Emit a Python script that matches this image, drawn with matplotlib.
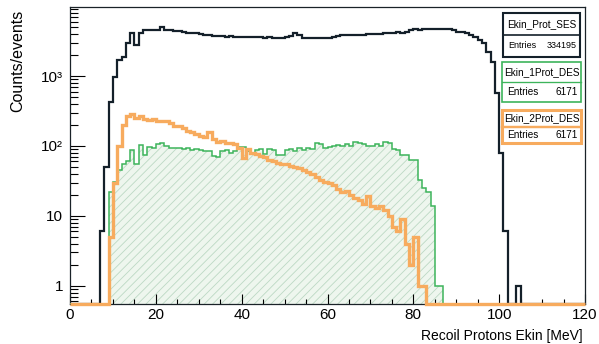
import matplotlib
matplotlib.use('Agg')
import matplotlib.pyplot as plt
import numpy as np
from matplotlib.patches import Rectangle
from matplotlib.lines import Line2D
from matplotlib.ticker import LogLocator, NullFormatter, MultipleLocator

plt.rcParams['font.family'] = ['Liberation Sans', 'DejaVu Sans']

# -------------------------- data (1 MeV bins, 0..120) --------------------------
bin_edges = np.arange(0, 121, 1)

ses_first_bin = 7
ses_counts = [6, 50, 425, 970, 1700, 1900, 2960, 4100, 2750,
              4100, 4550, 4600, 4500, 4600, 5050, 4600, 4550, 4400, 4400, 4200, 4100, 4150, 4150, 4000,
              3850, 3800, 3700, 3750, 3700, 3650, 3700, 3650, 3600, 3650, 3650, 3600, 3650, 3600, 3550,
              3600, 3550, 3500, 3500, 3600, 3700, 4100, 3800, 3550, 3500, 3550, 3500, 3550, 3550, 3500,
              3600, 3700, 3800, 3850, 3800, 3900, 3850, 3900, 4000, 3950, 4000, 4050, 4100, 4150, 4100,
              4200, 4150, 4200, 4500, 4650, 4600, 4700, 4650, 4700, 4750, 4700, 4650, 4700, 4600, 4300,
              4300, 4100, 3850, 3600, 3300, 3000, 2200, 1600, 570, 80, 6, 0, 0, 1]

des1_first_bin = 9
des1_counts = [22, 31, 45, 55, 60, 88, 55, 103, 74, 98, 95, 105, 110, 100, 95, 92, 95, 90, 92, 88,
               90, 88, 85, 85, 72, 70, 85, 88, 80, 85, 97, 97, 85, 80, 88, 90, 78, 90, 88, 75,
               74, 88, 90, 85, 95, 88, 93, 90, 110, 108, 95, 98, 100, 103, 100, 105, 100, 115, 112, 105,
               100, 100, 105, 100, 115, 112, 90, 88, 75, 74, 63, 63, 33, 25, 22, 14, 1, 1]

des2_first_bin = 9
des2_counts = [5, 30, 100, 200, 270, 290, 250, 265, 240, 235, 245, 225, 230, 225, 210, 195, 190, 180,
               165, 160, 150, 140, 135, 160, 125, 115, 118, 110, 112, 105, 95, 68, 90, 80, 78, 72,
               70, 63, 60, 58, 55, 56, 52, 50, 48, 45, 43, 40, 36, 33, 31, 30, 28, 24, 22, 23,
               20, 18, 17, 15, 19, 14, 13, 14, 12, 10, 7, 6, 9, 4, 2, 5, 1, 1]

names = ['Ekin_Prot_SES', 'Ekin_1Prot_DES', 'Ekin_2Prot_DES']
entries = ['334195', '6171', '6171']
xtick_values = [0, 20, 40, 60, 80, 100, 120]
ytick_values = [1, 10, 100, 1000]
ytick_labels = ['1', '10', '10²', '10³']

# -------------------------- drawing --------------------------
ymin, ymax = 0.55, 9700
c_black, c_green, c_orange = '#14202a', '#3db45b', '#f7ab5e'


def full_hist(first, counts):
    h = np.zeros(len(bin_edges) - 1)
    h[first:first + len(counts)] = counts
    # empty bins are drawn on the frame bottom, as ROOT does on log scale
    return np.where(h > 0, h, ymin)


ses = full_hist(ses_first_bin, ses_counts)
des1 = full_hist(des1_first_bin, des1_counts)
des2 = full_hist(des2_first_bin, des2_counts)

plt.rcParams['hatch.linewidth'] = 0.6
fig = plt.figure(figsize=(5.99, 3.44), dpi=100)
ax = fig.add_axes([70 / 599, 1 - 304 / 344, 515 / 599, 297 / 344])
ax.set_yscale('log')

ax.stairs(des1, bin_edges, baseline=ymin, fill=True, facecolor='#eef6ee',
          edgecolor='#bcd8c4', hatch='////', linewidth=0, zorder=1)
ax.stairs(ses, bin_edges, baseline=None, color=c_black, linewidth=1.6, zorder=3)
ax.stairs(des1, bin_edges, baseline=None, color=c_green, linewidth=1.1, zorder=4)
ax.stairs(des2, bin_edges, baseline=None, color=c_orange, linewidth=2.4, zorder=5,
          clip_on=False)

ax.set_xlim(0, 120)
ax.set_ylim(ymin, ymax)

ax.set_xticks(xtick_values)
ax.xaxis.set_minor_locator(MultipleLocator(5))
ax.set_yticks(ytick_values, labels=ytick_labels)
ax.yaxis.set_minor_locator(LogLocator(base=10, subs=np.arange(2, 10)))
ax.yaxis.set_minor_formatter(NullFormatter())

ax.tick_params(axis='x', which='major', direction='in', length=7, width=0.8, labelsize=11, pad=3)
ax.tick_params(axis='x', which='minor', direction='in', length=3.6, width=0.8)
ax.tick_params(axis='y', which='major', direction='in', length=11, width=0.8, labelsize=11, pad=5)
ax.tick_params(axis='y', which='minor', direction='in', length=5.8, width=0.8)
for sp in ax.spines.values():
    sp.set_linewidth(0.9)
    sp.set_color('#1a2228')
    sp.set_zorder(2)

fig.text(18 / 599, 1 - 10 / 344, 'Counts/events', rotation=90, ha='center', va='top', fontsize=11.5)
fig.text(583 / 599, 1 - 336 / 344, 'Recoil Protons Ekin [MeV]', ha='right', va='center', fontsize=10)

# -------------------------- stat boxes (pixel coordinates) --------------------------
boxes = [(503, 13, 580, 57, c_black, 1.5), (502, 62, 581, 102, c_green, 1.2),
         (502, 110, 581, 143, c_orange, 2.2)]
W, H = 599, 344
for (x0, y0, x1, y1, col, lw), name, n in zip(boxes, names, entries):
    ym = (y0 + y1) / 2
    fig.add_artist(Rectangle((x0 / W, 1 - y1 / H), (x1 - x0) / W, (y1 - y0) / H,
                             transform=fig.transFigure, facecolor='white', edgecolor=col,
                             linewidth=lw, zorder=10))
    fig.add_artist(Line2D([x0 / W, x1 / W], [1 - ym / H, 1 - ym / H], transform=fig.transFigure,
                          color=col, linewidth=lw * 0.8, zorder=11))
    fs = 7.2
    fig.text((x0 + x1) / 2 / W, 1 - (y0 + ym) / 2 / H, name, ha='center', va='center',
             fontsize=fs, zorder=12)
    fig.text((x0 + 5) / W, 1 - (ym + y1) / 2 / H, 'Entries', ha='left', va='center',
             fontsize=fs if n != '334195' else 6.5, zorder=12)
    fig.text((x1 - 3) / W, 1 - (ym + y1) / 2 / H, n, ha='right', va='center',
             fontsize=fs if n != '334195' else 6.5, zorder=12)

plt.savefig('out.png', dpi=100)
